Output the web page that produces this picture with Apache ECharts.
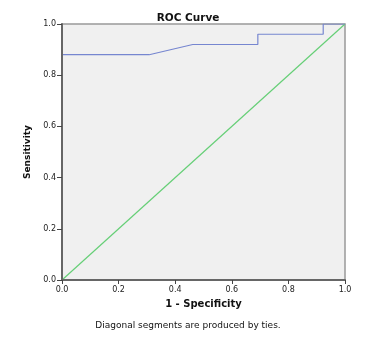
<!DOCTYPE html>
<html>
<head>
<meta charset="utf-8">
<script src="https://cdn.jsdelivr.net/npm/echarts@6/dist/echarts.min.js"></script>
<style>
  html, body { margin: 0; padding: 0; background: #fff; }
  #chart { width: 389px; height: 338px; }
</style>
</head>
<body>
<div id="chart"></div>
<script>
// ROC curve points: [1 - specificity, sensitivity]
const rocFpr = [0, 0, 0.308, 0.462, 0.692, 0.692, 0.923, 0.923, 1];
const rocTpr = [0, 0.88, 0.88, 0.92, 0.92, 0.96, 0.96, 1, 1];
// Reference line
const refFpr = [0, 1];
const refTpr = [0, 1];
const tickLabels = ['0.0', '0.2', '0.4', '0.6', '0.8', '1.0'];

const rocData = rocFpr.map((x, i) => [x, rocTpr[i]]);
const refData = refFpr.map((x, i) => [x, refTpr[i]]);
const fmt = v => tickLabels[Math.round(v * 5)];
const font = 'DejaVu Sans';

const chart = echarts.init(document.getElementById('chart'), null, { renderer: 'canvas' });
chart.setOption({
  animation: false,
  backgroundColor: '#ffffff',
  title: [
    { text: 'ROC Curve', left: 183, top: 8, textAlign: 'center',
      textStyle: { fontFamily: font, fontSize: 10.5, fontWeight: 'bold', color: '#111' } },
    { text: 'Diagonal segments are produced by ties.', left: 183, top: 316, textAlign: 'center',
      textStyle: { fontFamily: font, fontSize: 9, fontWeight: 'normal', color: '#111' } }
  ],
  grid: { left: 62, right: 44, top: 24, bottom: 58, show: true, backgroundColor: '#f0f0f0',
          borderColor: '#999', borderWidth: 1.5 },
  xAxis: {
    type: 'value', min: 0, max: 1, interval: 0.2, z: 5,
    name: '1 - Specificity', nameLocation: 'middle', nameGap: 19,
    nameTextStyle: { fontFamily: font, fontSize: 10, fontWeight: 'bold', color: '#111' },
    axisLine: { show: true, lineStyle: { color: '#666', width: 2 } },
    axisTick: { show: true, inside: false, length: 4, lineStyle: { color: '#444' } },
    axisLabel: { formatter: fmt, fontFamily: font, fontSize: 8, color: '#222', margin: 6 },
    splitLine: { show: false }
  },
  yAxis: {
    type: 'value', min: 0, max: 1, interval: 0.2, z: 5,
    name: 'Sensitivity', nameLocation: 'middle', nameGap: 24,
    nameTextStyle: { fontFamily: font, fontSize: 9, fontWeight: 'bold', color: '#111' },
    axisLine: { show: true, lineStyle: { color: '#666', width: 2 } },
    axisTick: { show: true, inside: false, length: 5, lineStyle: { color: '#444' } },
    axisLabel: { formatter: fmt, fontFamily: font, fontSize: 8, color: '#222', margin: 6 },
    splitLine: { show: false }
  },
  series: [
    { type: 'line', data: refData, showSymbol: false, silent: true, z: 2,
      lineStyle: { color: '#66cf77', width: 1.2 } },
    { type: 'line', data: rocData, showSymbol: false, silent: true, z: 3,
      lineStyle: { color: '#7686d0', width: 1.2 } }
  ]
});
</script>
</body>
</html>
